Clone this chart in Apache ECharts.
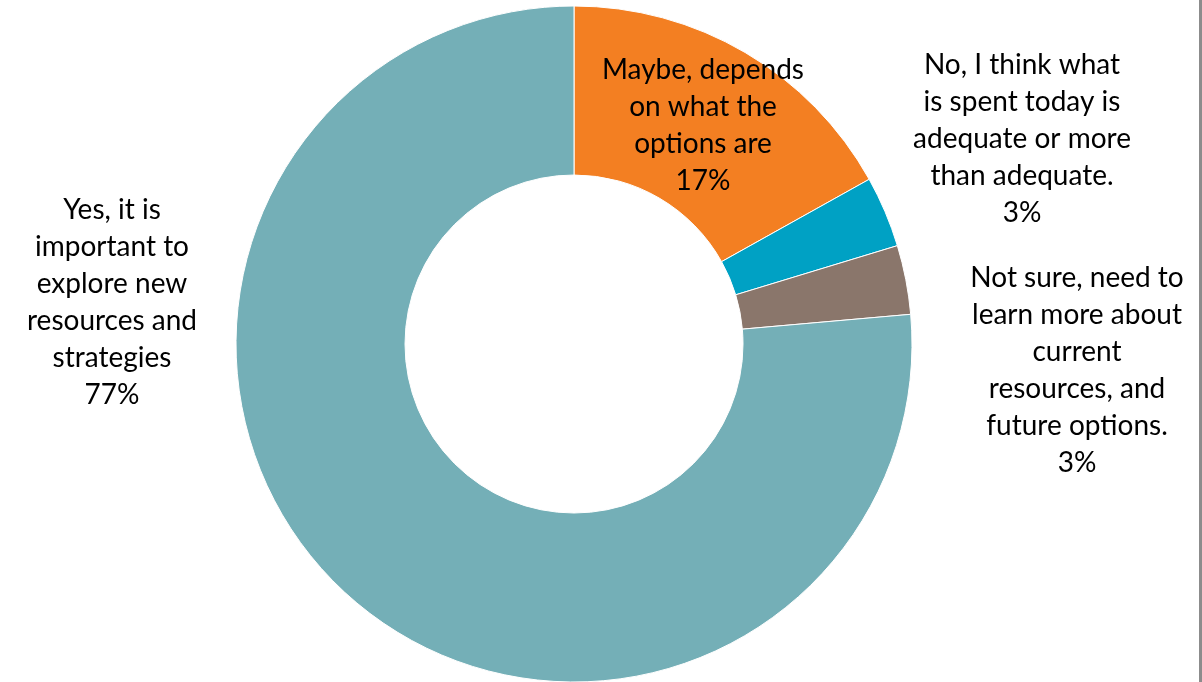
<!DOCTYPE html>
<html>
<head>
<meta charset="utf-8">
<script src="https://cdn.jsdelivr.net/npm/echarts@6/dist/echarts.min.js"></script>
<style>
html,body{margin:0;padding:0;background:#fff;}
#chart{width:1202px;height:682px;}
</style>
</head>
<body>
<div id="chart"></div>
<script>
// Data
const categories = [
  "Maybe, depends\non what the\noptions are",
  "No, I think what\nis spent today is\nadequate or more\nthan adequate.",
  "Not sure, need to\nlearn more about\ncurrent\nresources, and\nfuture options.",
  "Yes, it is\nimportant to\nexplore new\nresources and\nstrategies"
];
const values = [16.9, 3.4, 3.3, 76.4];
const percentLabels = ["17%", "3%", "3%", "77%"];
const colors = ["#F37F22", "#00A1C4", "#8A766B", "#74AFB7"];

// Label anchor positions (layout only)
const labelPos = [[703, 125], [1022, 139], [1077, 370], [112, 302]];

const chart = echarts.init(document.getElementById('chart'));
chart.setOption({
  animation: false,
  backgroundColor: '#ffffff',
  graphic: [{
    type: 'rect',
    shape: { x: 1199, y: 0, width: 3, height: 682 },
    style: { fill: '#8c8c8c' }
  }],
  series: [{
    type: 'pie',
    center: [574, 344],
    radius: [169, 338],
    startAngle: 90,
    clockwise: true,
    avoidLabelOverlap: false,
    itemStyle: { borderColor: '#ffffff', borderWidth: 1 },
    label: {
      show: true,
      position: 'outside',
      color: '#000000',
      fontFamily: 'Lato, "Open Sans", sans-serif',
      fontSize: 28,
      lineHeight: 37,
      align: 'center',
      formatter: function (p) { return p.name + '\n' + percentLabels[p.dataIndex]; }
    },
    labelLine: { show: false },
    labelLayout: function (params) {
      const pos = labelPos[params.dataIndex];
      return { x: pos[0], y: pos[1], align: 'center', verticalAlign: 'middle' };
    },
    emphasis: { disabled: true },
    data: categories.map((c, i) => ({ name: c, value: values[i], itemStyle: { color: colors[i] } }))
  }]
});
</script>
</body>
</html>
